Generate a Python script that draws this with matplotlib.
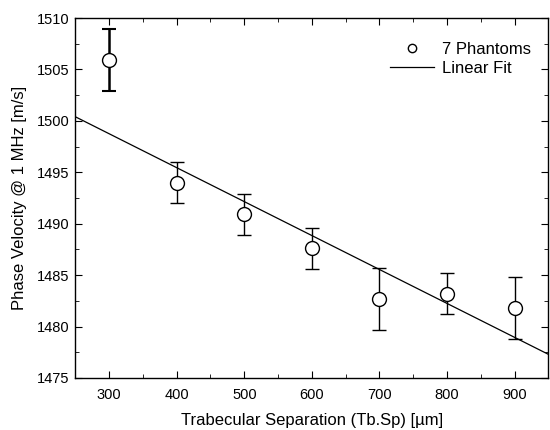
import matplotlib
matplotlib.use("Agg")
import matplotlib.pyplot as plt
from matplotlib.ticker import MultipleLocator
import numpy as np

plt.rcParams['font.family'] = ['Liberation Sans', 'DejaVu Sans']

tb_sp = [300, 400, 500, 600, 700, 800, 900]
velocity = [1505.9, 1494.0, 1490.9, 1487.6, 1482.7, 1483.2, 1481.8]
err = [3.0, 2.0, 2.0, 2.0, 3.0, 2.0, 3.0]
fit_x = [250, 950]
fit_y = [1500.4, 1477.3]

fig = plt.figure(figsize=(5.5, 4.3), dpi=100)
ax = fig.add_axes([0.137, 0.121, 0.860, 0.837])

ax.plot(fit_x, fit_y, color='black', lw=0.9, label='Linear Fit', zorder=2)
ax.errorbar(tb_sp[:1], velocity[:1], yerr=err[:1], fmt='none', ecolor='black',
            elinewidth=1.8, capsize=5, capthick=1.5, zorder=3)
ax.errorbar(tb_sp[1:], velocity[1:], yerr=err[1:], fmt='none', ecolor='black',
            elinewidth=1.0, capsize=5, capthick=1.0, zorder=3)
ax.plot(tb_sp, velocity, 'o', ms=10, mfc='white', mec='black', mew=1.0,
        zorder=4, label='7 Phantoms')

ax.set_xlim(250, 950)
ax.set_ylim(1475, 1510)
ax.xaxis.set_major_locator(MultipleLocator(100))
ax.xaxis.set_minor_locator(MultipleLocator(50))
ax.yaxis.set_major_locator(MultipleLocator(5))
ax.yaxis.set_minor_locator(MultipleLocator(2.5))
ax.set_xticks([300, 400, 500, 600, 700, 800, 900])
ax.tick_params(which='both', direction='in', top=True, right=True, labelsize=10.5)
ax.tick_params(axis='x', which='major', pad=7)
ax.tick_params(axis='y', which='major', pad=4)
ax.tick_params(which='major', length=5)
ax.tick_params(which='minor', length=3)
for s in ax.spines.values():
    s.set_linewidth(1.0)

ax.set_xlabel('Trabecular Separation (Tb.Sp) [µm]', fontsize=12, labelpad=8.5)
ax.set_ylabel('Phase Velocity @ 1 MHz [m/s]', fontsize=12, labelpad=7)

handles, labels = ax.get_legend_handles_labels()
leg = ax.legend([handles[1], handles[0]], [labels[1], labels[0]], loc='upper right',
                frameon=False, fontsize=12, handlelength=2.6, handletextpad=0.5,
                labelspacing=0.25, bbox_to_anchor=(0.995, 0.975), markerscale=0.6)

fig.savefig('out.png', dpi=100)
